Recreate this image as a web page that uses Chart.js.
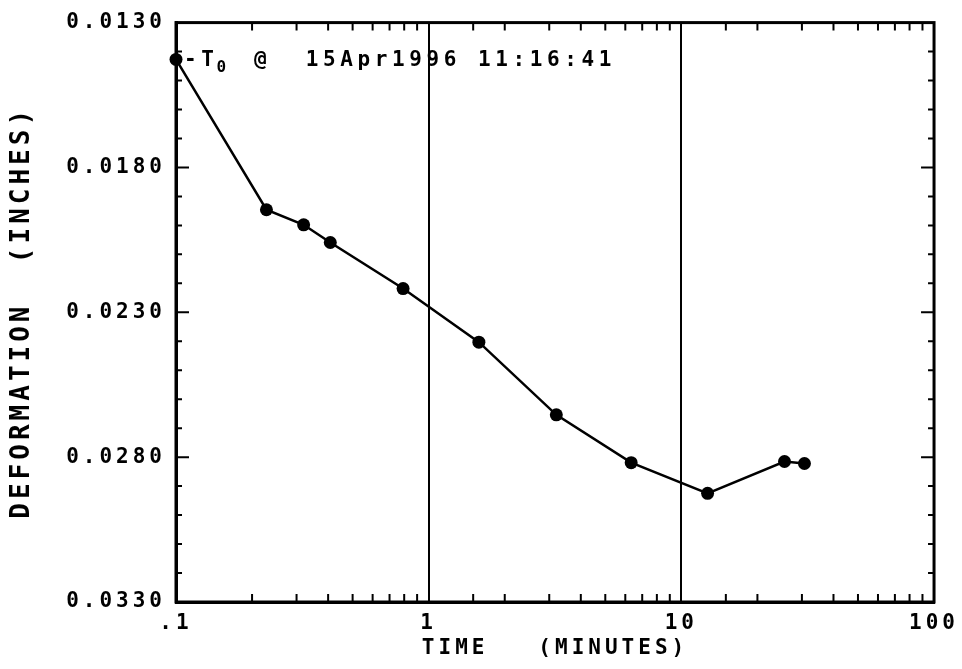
<!DOCTYPE html>
<html><head><meta charset="utf-8">
<script src="https://cdn.jsdelivr.net/npm/chart.js@4/dist/chart.umd.min.js"></script>
<style>html,body{margin:0;padding:0;background:#fff}canvas{display:block}</style>
</head><body>
<canvas id="c" width="962" height="669"></canvas>
<script>
// ---- data ----
const timeMinutes = [0.1, 0.228, 0.32, 0.408, 0.792, 1.58, 3.2, 6.33, 12.7, 25.6, 30.7];
const deformationInches = [0.01427, 0.01946, 0.01998, 0.02059, 0.02218, 0.02403, 0.02654, 0.02819, 0.02925, 0.02815, 0.02822];
const xTickValues = [0.1, 1, 10, 100];
const xTickLabels = ['.1', '1', '10', '100'];
const yTickValues = [0.013, 0.018, 0.023, 0.028, 0.033];
const yTickLabels = ['0.0130', '0.0180', '0.0230', '0.0280', '0.0330'];
const annotationParts = ['-T', '0', ' @  15Apr1996 11:16:41'];
const xTitle = 'TIME   (MINUTES)';
const yTitle = 'DEFORMATION  (INCHES)';

const FONT = '"DejaVu Sans Mono", "Liberation Mono", monospace';
const SPACING = '4px';

function isDecade(v) {
  const l = Math.log10(v);
  return Math.abs(l - Math.round(l)) < 1e-9;
}
function labelFor(v, values, labels) {
  for (let i = 0; i < values.length; i++) {
    if (Math.abs(v - values[i]) / values[i] < 1e-6) return labels[i];
  }
  return '';
}

const framePlugin = {
  id: 'frame',
  beforeDraw(chart) {
    chart.ctx.letterSpacing = SPACING;
  },
  afterDatasetsDraw(chart) {
    const ctx = chart.ctx;
    const a = chart.chartArea;
    const xs = chart.scales.x, ys = chart.scales.y;
    ctx.save();
    ctx.letterSpacing = '0px';
    ctx.strokeStyle = '#000';
    ctx.lineWidth = 3;
    ctx.strokeRect(a.left, a.top, a.right - a.left, a.bottom - a.top);
    ctx.lineWidth = 2;
    ctx.beginPath();
    xs.ticks.forEach(t => {
      if (isDecade(t.value)) return;
      const px = xs.getPixelForValue(t.value);
      ctx.moveTo(px, a.bottom); ctx.lineTo(px, a.bottom - 8);
      ctx.moveTo(px, a.top); ctx.lineTo(px, a.top + 8);
    });
    ys.ticks.forEach(t => {
      if (t.value <= ys.min + 1e-9 || t.value >= ys.max - 1e-9) return;
      const py = ys.getPixelForValue(t.value);
      const len = labelFor(t.value, yTickValues, yTickLabels) ? 13 : 6;
      ctx.moveTo(a.left, py); ctx.lineTo(a.left + len, py);
      ctx.moveTo(a.right, py); ctx.lineTo(a.right - len, py);
    });
    ctx.stroke();

    // annotation next to first point
    const p = chart.getDatasetMeta(0).data[0];
    ctx.fillStyle = '#000';
    ctx.textBaseline = 'middle';
    ctx.letterSpacing = '4.6px';
    let x = p.x + 8;
    ctx.font = 'bold 21px ' + FONT;
    ctx.fillText(annotationParts[0], x, p.y + 1);
    x += ctx.measureText(annotationParts[0]).width - 2;
    ctx.font = 'bold 16px ' + FONT;
    ctx.fillText(annotationParts[1], x, p.y + 8);
    x += ctx.measureText(annotationParts[1]).width + 6;
    ctx.font = 'bold 21px ' + FONT;
    ctx.fillText(annotationParts[2], x, p.y + 1);
    ctx.restore();
  }
};

new Chart(document.getElementById('c'), {
  type: 'line',
  data: {
    datasets: [{
      data: timeMinutes.map((t, i) => ({x: t, y: deformationInches[i]})),
      borderColor: '#000',
      backgroundColor: '#000',
      borderWidth: 2.5,
      pointRadius: 6.5,
      pointBackgroundColor: '#000',
      pointBorderWidth: 0,
      tension: 0,
      clip: false
    }]
  },
  options: {
    responsive: false,
    animation: false,
    events: [],
    layout: {padding: {left: 0, top: 18, right: 25, bottom: 0}},
    plugins: {legend: {display: false}, tooltip: {enabled: false}},
    scales: {
      x: {
        type: 'logarithmic',
        min: 0.1, max: 100,
        afterFit(s) { s.height = 67; },
        border: {display: true, color: '#000', width: 3},
        grid: {
          drawTicks: false,
          lineWidth: 2,
          color: c => (c.tick && isDecade(c.tick.value) && c.tick.value > 0.5 && c.tick.value < 50) ? '#000' : 'rgba(0,0,0,0)'
        },
        ticks: {
          autoSkip: false, maxRotation: 0, minRotation: 0, padding: 9,
          color: '#000', font: {family: FONT, size: 21, weight: 'bold'},
          callback: v => labelFor(v, xTickValues, xTickLabels)
        },
        title: {
          display: true, text: xTitle, color: '#000',
          font: {family: FONT, size: 21, weight: 'bold'},
          padding: {top: 0, bottom: 8}
        }
      },
      y: {
        type: 'linear',
        reverse: true,
        min: 0.013, max: 0.033,
        afterFit(s) { s.width = 176; },
        border: {display: true, color: '#000', width: 3},
        grid: {display: false, drawTicks: false},
        ticks: {
          stepSize: 0.001, autoSkip: false, padding: 10,
          color: '#000', font: {family: FONT, size: 21, weight: 'bold'},
          callback: v => labelFor(v, yTickValues, yTickLabels)
        },
        title: {
          display: true, text: yTitle, color: '#000',
          font: {family: FONT, size: 26, weight: 'bold'},
          padding: {top: 7, bottom: 0}
        }
      }
    }
  },
  plugins: [framePlugin]
});
</script>
</body></html>
